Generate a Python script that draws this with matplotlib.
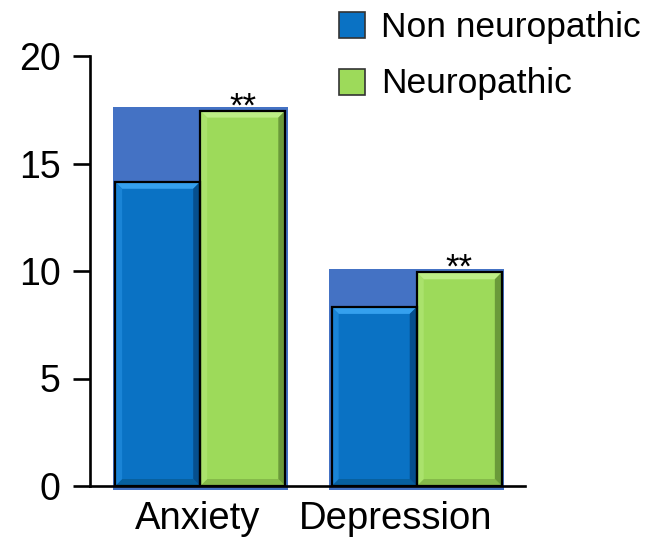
import matplotlib
matplotlib.use("Agg")
import matplotlib.pyplot as plt
from matplotlib.patches import Rectangle, Polygon
from matplotlib.transforms import IdentityTransform, ScaledTranslation
import numpy as np

# ---- data -------------------------------------------------------------
categories = ["Anxiety", "Depression"]
series_labels = ["Non neuropathic", "Neuropathic"]
non_neuropathic = [14.15, 8.33]
neuropathic = [17.46, 9.94]
group_backdrop = [17.61, 10.08]
significance = ["**", "**"]
y_ticks = [0, 5, 10, 15, 20]

# ---- style ------------------------------------------------------------
plt.rcParams['font.family'] = ['Liberation Sans', 'DejaVu Sans']
BLUE = dict(face="#0A72C4", top="#35A0EE", left="#1A84D6", right="#064F8E", bottom="#07609F")
GREEN = dict(face="#9DDA5A", top="#BDEE86", left="#AAE26C", right="#6A9A3A", bottom="#85BA4A")
BACKDROP = "#4472C4"

W, H, DPI = 658, 544, 100
fig = plt.figure(figsize=(W / DPI, H / DPI), dpi=DPI)
ax = fig.add_axes([90 / W, (H - 486) / H, (525 - 90) / W, (486 - 56) / H])

x = np.arange(len(categories))
bar_w = 0.393
ax.set_xlim(-0.509, 1.500)
ax.set_ylim(0, 20)

# group backdrop panels
for xi, top in zip(x, group_backdrop):
    ax.add_patch(Rectangle((xi - 0.404, -0.18), 0.808, top + 0.18,
                           facecolor=BACKDROP, edgecolor="none", zorder=1, clip_on=False))


def bevel(left, width, height, colors, b=7):
    (x0, y0) = ax.transData.transform((left, 0))
    (x1, y1) = ax.transData.transform((left + width, height))
    faces = {
        "top": [(x0, y1), (x1, y1), (x1 - b, y1 - b), (x0 + b, y1 - b)],
        "bottom": [(x0, y0), (x1, y0), (x1 - b, y0 + b), (x0 + b, y0 + b)],
        "left": [(x0, y0), (x0, y1), (x0 + b, y1 - b), (x0 + b, y0 + b)],
        "right": [(x1, y0), (x1, y1), (x1 - b, y1 - b), (x1 - b, y0 + b)],
    }
    for name, pts in faces.items():
        ax.add_patch(Polygon(pts, closed=True, facecolor=colors[name], edgecolor="none",
                             transform=IdentityTransform(), zorder=3, clip_on=False))


for vals, colors, off in ((non_neuropathic, BLUE, -bar_w / 2), (neuropathic, GREEN, bar_w / 2)):
    ax.bar(x + off, vals, width=bar_w, color=colors["face"], edgecolor="none", zorder=2)
    for xi, v in zip(x, vals):
        bevel(xi + off - bar_w / 2, bar_w, v, colors)
    ax.bar(x + off, vals, width=bar_w, facecolor="none", edgecolor="black", linewidth=1.6, zorder=4)

for xi, v, s in zip(x, neuropathic, significance):
    ax.annotate(s, xy=(xi + bar_w / 2, v), xytext=(0, -4), textcoords="offset points",
                ha="center", va="baseline", fontsize=25, zorder=5)

# ---- axes -------------------------------------------------------------
for side in ("top", "right"):
    ax.spines[side].set_visible(False)
for side in ("left", "bottom"):
    ax.spines[side].set_linewidth(1.9)
    ax.spines[side].set_zorder(6)
ax.set_yticks(y_ticks)
ax.set_yticklabels([str(t) for t in y_ticks])
ax.tick_params(axis="y", length=12.5, width=1.9, pad=8.5, labelsize=27)
ax.set_xticks(x)
ax.set_xticklabels(categories)
ax.tick_params(axis="x", length=0, pad=11, labelsize=27.5)

# nudge the category labels slightly left (pixels)
for lbl, dx in zip(ax.get_xticklabels(), (-3, -21)):
    lbl.set_transform(lbl.get_transform() + ScaledTranslation(dx / DPI, 0, fig.dpi_scale_trans))

# ---- legend -----------------------------------------------------------
def fig_xy(px, py):
    return px / W, 1 - py / H

legend_colors = [BLUE["face"], GREEN["face"]]
for i, (lab, col) in enumerate(zip(series_labels, legend_colors)):
    cy = 25 + 57 * i
    sx, sy = fig_xy(339, cy + 13)
    fig.patches.append(Rectangle((sx, sy), 26 / W, 26 / H, transform=fig.transFigure,
                                 facecolor=col, edgecolor="#333333", linewidth=1.2))
    tx, ty = fig_xy(381, cy + 2)
    fig.text(tx, ty, lab, fontsize=25.5, ha="left", va="center")

fig.savefig("out.png", dpi=DPI)
